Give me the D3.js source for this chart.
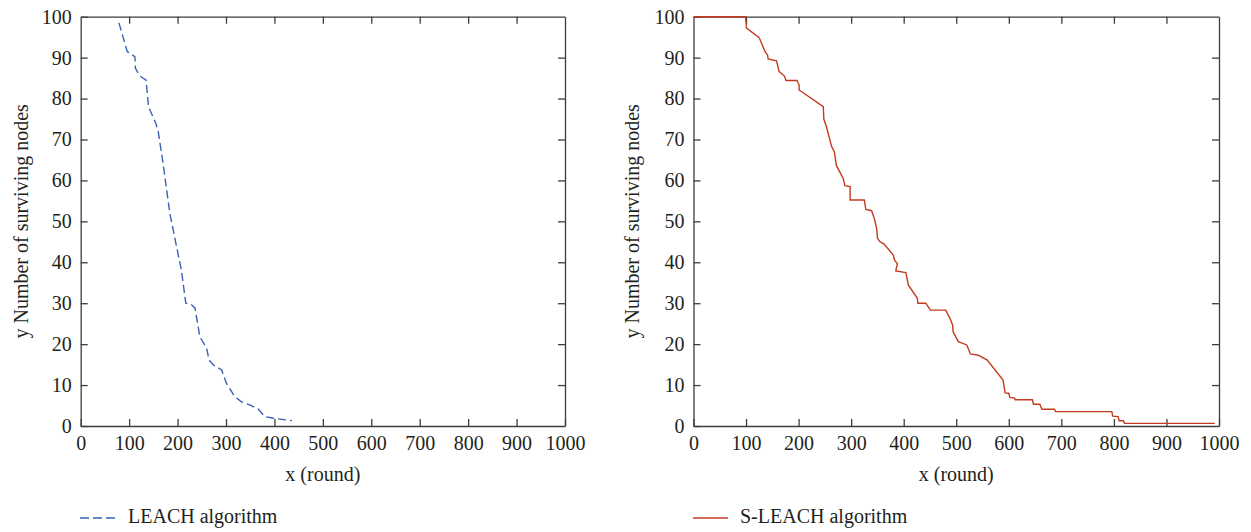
<!DOCTYPE html>
<html>
<head>
<meta charset="utf-8">
<script src="https://cdn.jsdelivr.net/npm/d3@7"></script>
<style>
  body { margin: 0; background: #fff; }
  svg text { font-family: "Liberation Serif", "DejaVu Serif", serif; fill: #231f20; }
</style>
</head>
<body>
<div id="chart"></div>
<script>
// rounds vs surviving nodes
const leachRounds = [79, 96, 105, 112, 113, 122, 135, 140, 155, 160, 171, 184, 198, 208, 217, 229, 236, 246, 260, 265, 274, 291, 301, 318, 332, 350, 367, 380, 398, 436];
const leachNodes  = [98.5, 91.5, 90.8, 90.2, 87.4, 85.5, 84.5, 78, 74, 72, 63.4, 52, 43.8, 38, 30, 29.6, 28.8, 21.8, 19, 16.1, 14.9, 13.7, 10.4, 7.2, 5.9, 5.1, 4.1, 2.3, 1.9, 1.3];

const sleachRounds = [0, 99, 101, 125, 136, 141, 142, 158, 163, 173, 176, 197, 201, 201, 247, 248, 253, 263, 268, 272, 285, 288, 298, 298, 325, 328, 339, 345, 349, 350, 355, 362, 380, 383, 388, 385, 404, 409, 426, 427, 442, 451, 480, 488, 493, 494, 504, 520, 527, 542, 559, 589, 593, 600, 602, 611, 612, 645, 647, 659, 663, 687, 689, 796, 798, 808, 810, 818, 820, 992];
const sleachNodes  = [100, 100, 97.2, 94.9, 91.5, 90.6, 89.7, 89.2, 86.6, 85.5, 84.4, 84.4, 83.3, 82.1, 78, 75, 73.1, 68.2, 67, 63.6, 60.5, 58.7, 58.5, 55.2, 55.2, 52.9, 52.6, 50.3, 47.9, 45.9, 45, 44.5, 41.8, 40.4, 39.7, 37.9, 37.5, 34.4, 31.2, 30, 30, 28.3, 28.3, 26.3, 24.7, 23, 20.6, 19.8, 17.6, 17.3, 16.1, 11.2, 8.1, 8, 7, 6.8, 6.4, 6.4, 5.3, 5.3, 4.1, 4.1, 3.5, 3.5, 2.4, 2.3, 1.3, 1.3, 0.65, 0.65];

const xTicks = [0, 100, 200, 300, 400, 500, 600, 700, 800, 900, 1000];
const yTicks = [0, 10, 20, 30, 40, 50, 60, 70, 80, 90, 100];
const xTitle = 'x (round)';
const yTitle = 'y Number of surviving nodes';

const panels = [
    { name: 'LEACH algorithm', rounds: leachRounds, nodes: leachNodes, color: '#3b60b6', dash: '8,4',
      left: 80.7, right: 565, yLabelX: 28, legendX: 80 },
    { name: 'S-LEACH algorithm', rounds: sleachRounds, nodes: sleachNodes, color: '#c33a1f', dash: null,
      left: 693.5, right: 1219, yLabelX: 639, legendX: 693 }
];

const width = 1251, height = 532;
const plotTop = 16.7, plotBottom = 426;
const axisColor = '#3d3d3d';

const svg = d3.select('#chart').append('svg')
    .attr('width', width)
    .attr('height', height);

const styleAxis = g => {
    g.select('.domain').attr('stroke', axisColor).attr('stroke-width', 1.3);
    g.selectAll('.tick line').attr('stroke', axisColor).attr('stroke-width', 1.3);
    g.selectAll('.tick text').attr('font-size', 20).attr('fill', '#231f20')
        .attr('font-family', '"Liberation Serif", "DejaVu Serif", serif');
};

panels.forEach(p => {
    const xScale = d3.scaleLinear().domain([0, 1000]).range([p.left, p.right]);
    const yScale = d3.scaleLinear().domain([0, 100]).range([plotBottom, plotTop]);
    const g = svg.append('g');

    // Draw axis (ticks pointing inward, box on all sides)
    g.append('g').attr('transform', `translate(0, ${plotBottom})`)
        .call(d3.axisBottom(xScale).tickValues(xTicks).tickFormat(d3.format('d'))
            .tickSizeInner(-7).tickSizeOuter(0).tickPadding(10))
        .call(styleAxis);
    g.append('g').attr('transform', `translate(0, ${plotTop})`)
        .call(d3.axisTop(xScale).tickValues(xTicks.slice(1, -1)).tickFormat('').tickSizeInner(-7).tickSizeOuter(0))
        .call(styleAxis);
    g.append('g').attr('transform', `translate(${p.left}, 0)`)
        .call(d3.axisLeft(yScale).tickValues(yTicks).tickFormat(d3.format('d'))
            .tickSizeInner(-7).tickSizeOuter(0).tickPadding(9))
        .call(styleAxis);
    g.append('g').attr('transform', `translate(${p.right}, 0)`)
        .call(d3.axisRight(yScale).tickValues(yTicks.slice(1, -1)).tickFormat('').tickSizeInner(-7).tickSizeOuter(0))
        .call(styleAxis);

    // Axis titles
    g.append('text')
        .attr('x', (p.left + p.right) / 2)
        .attr('y', 481)
        .attr('text-anchor', 'middle')
        .attr('font-size', 20)
        .text(xTitle);
    g.append('text')
        .attr('transform', `translate(${p.yLabelX}, ${(plotTop + plotBottom) / 2}) rotate(-90)`)
        .attr('text-anchor', 'middle')
        .attr('font-size', 20)
        .text(yTitle);

    // Plot mark
    const line = d3.line()
        .x((d, i) => xScale(p.rounds[i]))
        .y(d => yScale(d));
    g.append('path')
        .datum(p.nodes)
        .attr('fill', 'none')
        .attr('stroke', p.color)
        .attr('stroke-width', 1.4)
        .attr('stroke-dasharray', p.dash)
        .attr('d', line);

    // Legend
    const legend = g.append('g').attr('transform', `translate(${p.legendX}, 518)`);
    legend.append('line')
        .attr('x1', 0).attr('x2', 35)
        .attr('stroke', p.color)
        .attr('stroke-width', 1.4)
        .attr('stroke-dasharray', p.dash ? '9,4' : null);
    legend.append('text')
        .attr('x', p.dash ? 48 : 47)
        .attr('y', 5)
        .attr('font-size', 20)
        .text(p.name);
});
</script>
</body>
</html>
